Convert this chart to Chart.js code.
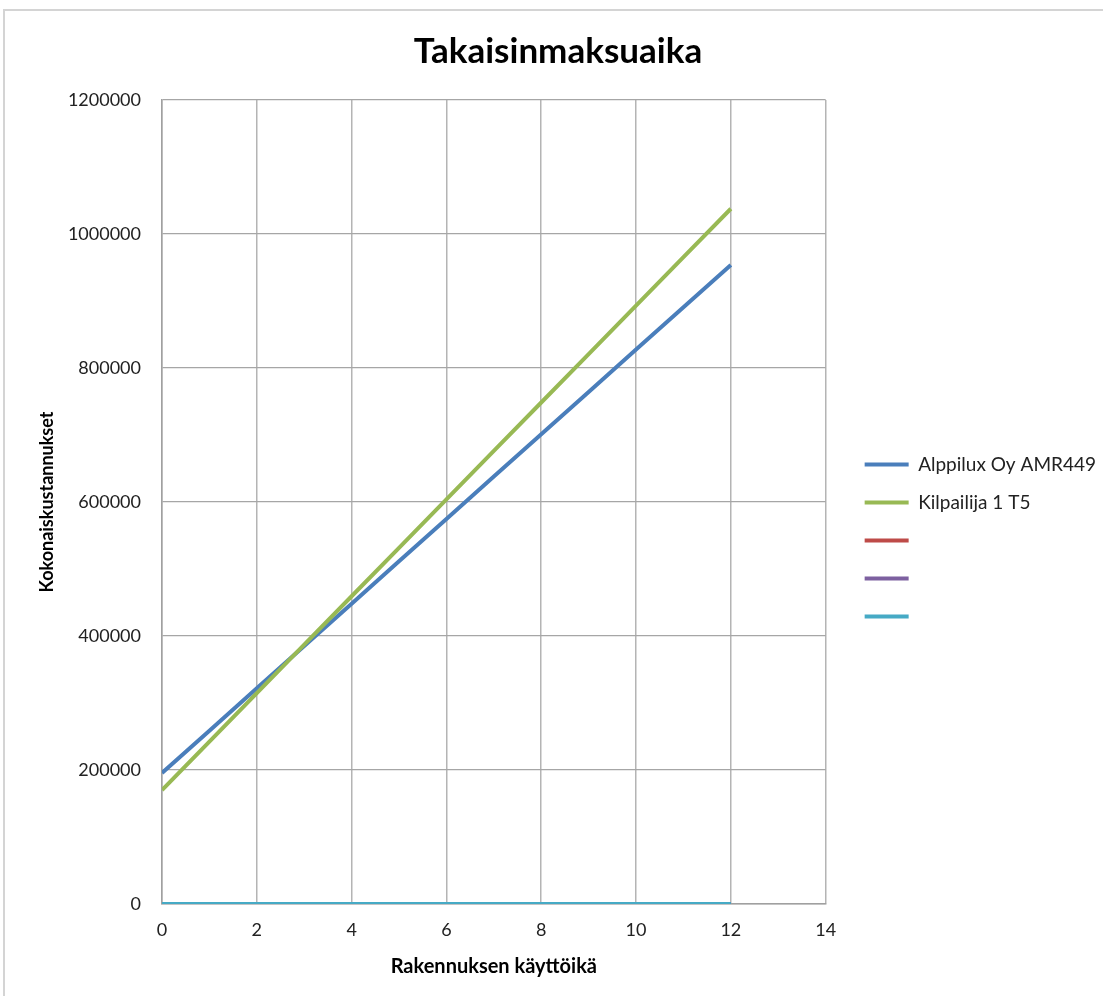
<!DOCTYPE html>
<html>
<head>
<meta charset="utf-8">
<script src="https://cdn.jsdelivr.net/npm/chart.js@4"></script>
<style>
  html, body { margin: 0; padding: 0; background: #fff; }
  #frame {
    position: absolute; left: 3px; top: 9px; width: 1110px; height: 1000px;
    border: 2px solid #d4d4d4; box-sizing: border-box;
  }
  #wrap { position: absolute; left: 0; top: 0; }
</style>
</head>
<body>
<div id="frame"></div>
<div id="wrap"><canvas id="chart" width="1103" height="996"></canvas></div>
<script>
'use strict';

// Years of building use
const years = [0, 1, 2, 3, 4, 5, 6, 7, 8, 9, 10, 11, 12];

// Total costs per series
const alppilux = [195500, 258700, 321900, 385100, 448300, 511500, 574700, 637900, 701100, 764300, 827500, 890700, 953900];
const kilpailija = [170100, 242400, 314700, 387000, 459300, 531600, 603900, 676200, 748500, 820800, 893100, 965400, 1037700];
const empty1 = [0, 0, 0, 0, 0, 0, 0, 0, 0, 0, 0, 0, 0];
const empty2 = [0, 0, 0, 0, 0, 0, 0, 0, 0, 0, 0, 0, 0];
const empty3 = [0, 0, 0, 0, 0, 0, 0, 0, 0, 0, 0, 0, 0];

const seriesNames = ['Alppilux Oy AMR449', 'Kilpailija 1 T5', '', '', ''];
const seriesColors = ['#4a7ebb', '#98b954', '#be4b48', '#7d60a0', '#46aac5'];

const xTicks = [0, 2, 4, 6, 8, 10, 12, 14];
const yTicks = [0, 200000, 400000, 600000, 800000, 1000000, 1200000];

const FONT = 'Lato, "Open Sans", sans-serif';

function toPoints(values) {
    return values.map((v, i) => ({ x: years[i], y: v }));
}

const allSeries = [alppilux, kilpailija, empty1, empty2, empty3];

// later series drawn on top, like the original
const datasets = allSeries.map((vals, i) => ({
    label: seriesNames[i],
    data: toPoints(vals),
    borderColor: seriesColors[i],
    backgroundColor: seriesColors[i],
    borderWidth: 4,
    pointRadius: 0,
    tension: 0,
    fill: false,
    order: allSeries.length - 1 - i,
}));

// Nudge legend away from the plot, a bit lower (Excel style)
const legendNudge = {
    id: 'legendNudge',
    afterLayout(chart) {
        const lg = chart.legend;
        if (!lg) return;
        lg.left += 20; lg.right += 20;
        lg.top += 44; lg.bottom += 44;
    }
};

new Chart(document.getElementById('chart'), {
    type: 'line',
    data: { datasets },
    plugins: [legendNudge],
    options: {
        responsive: false,
        animation: false,
        layout: { padding: { left: 30, right: 17, top: 10, bottom: 13 } },
        plugins: {
            title: {
                display: true,
                text: 'Takaisinmaksuaika',
                color: '#000',
                font: { family: FONT, size: 35, weight: 'bold' },
                padding: { top: 21, bottom: 27 },
            },
            legend: {
                position: 'right',
                align: 'center',
                labels: {
                    boxWidth: 44,
                    boxHeight: 0,
                    padding: 19,
                    color: '#222',
                    font: { family: FONT, size: 19 },
                    sort: (a, b) => a.datasetIndex - b.datasetIndex,
                },
            },
            tooltip: { enabled: false },
        },
        scales: {
            x: {
                type: 'linear',
                min: 0,
                max: 14,
                afterBuildTicks: axis => { axis.ticks = xTicks.map(v => ({ value: v })); },
                afterFit: axis => { axis.height = 79; },
                grid: { color: '#b4b4b4', lineWidth: 1.5, drawTicks: false },
                border: { color: '#a0a0a0', width: 1.5 },
                ticks: { color: '#222', padding: 15, font: { family: FONT, size: 18 } },
                title: {
                    display: true,
                    text: 'Rakennuksen käyttöikä',
                    color: '#000',
                    font: { family: FONT, size: 20, weight: 'bold' },
                    padding: { top: 14, bottom: 4 },
                },
            },
            y: {
                min: 0,
                max: 1200000,
                afterBuildTicks: axis => { axis.ticks = yTicks.map(v => ({ value: v })); },
                afterFit: axis => { axis.width = 132; },
                grid: { color: '#a6a6a6', lineWidth: 1.2, drawTicks: false },
                border: { color: '#a0a0a0', width: 1.5 },
                ticks: {
                    color: '#222',
                    padding: 21,
                    font: { family: FONT, size: 18 },
                    callback: v => String(v),
                },
                title: {
                    display: true,
                    text: 'Kokonaiskustannukset',
                    color: '#000',
                    font: { family: FONT, size: 18, weight: 'bold' },
                    padding: { top: 6, bottom: 12 },
                },
            },
        },
    },
});
</script>
</body>
</html>
